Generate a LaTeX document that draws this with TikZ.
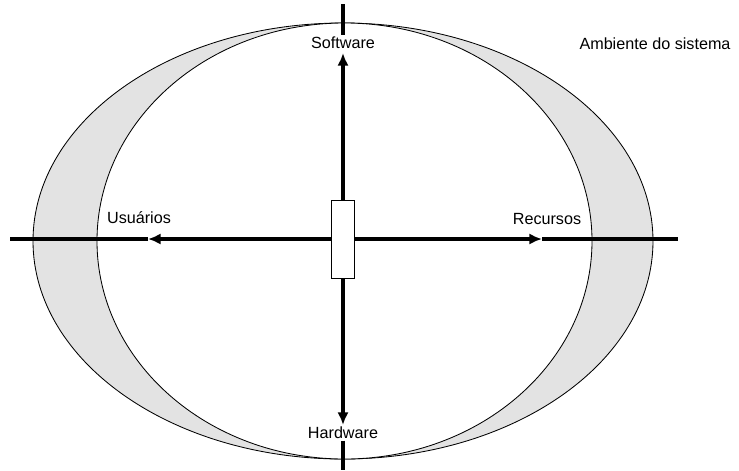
\documentclass[tikz,border=0pt]{standalone}
\usepackage{fontspec}
\setmainfont{Liberation Sans}
\usetikzlibrary{arrows.meta, positioning}

\begin{document}
\begin{tikzpicture}[
    x=0.025cm, y=-0.025cm,
    axis/.style={line width=2.2pt, draw=black},
    arrow/.style={-{Latex[length=9pt,width=8pt]}, line width=2.2pt, draw=black},
    label/.style={font=\fontsize{11.5}{13}\selectfont, inner sep=1pt},
    core/.style={rectangle, draw, fill=white, line width=0.6pt, minimum width=0.58cm, minimum height=1.95cm, inner sep=0pt}
]
    \useasboundingbox (0,0) rectangle (739,470);
    \draw[fill=black!11, line width=0.6pt] (343,241) ellipse [x radius=310, y radius=218];
    \draw[fill=white, line width=0.6pt] (344.5,241) ellipse [x radius=247.5, y radius=218];

    \node[core] (box) at (343,239) {};
    \node[label] (soft) at (343,43) {Software};
    \node[label] (hard) at (343,433) {Hardware};
    \node[label] (user) at (139,218) {Usuários};
    \node[label] (res) at (547,219) {Recursos};
    \node[label] (env) at (655,44) {Ambiente do sistema};

    \coordinate (top) at (343,4);
    \coordinate (bottom) at (343,470);
    \coordinate (west) at (10,239);
    \coordinate (east) at (678,239);
    \coordinate (softtip) at (343,53);
    \coordinate (hardtip) at (343,425);
    \coordinate (usertip) at (148,239);
    \coordinate (restip) at (542,239);

    \draw[axis] (top) -- (soft.north);
    \draw[arrow] (box.north) -- (softtip);
    \draw[arrow] (box.south) -- (hardtip);
    \draw[axis] (hard.south) -- (bottom);
    \draw[arrow] (box.west) -- (usertip);
    \draw[axis] (usertip) -- (west);
    \draw[arrow] (box.east) -- (restip);
    \draw[axis] (restip) -- (east);
\end{tikzpicture}
\end{document}
